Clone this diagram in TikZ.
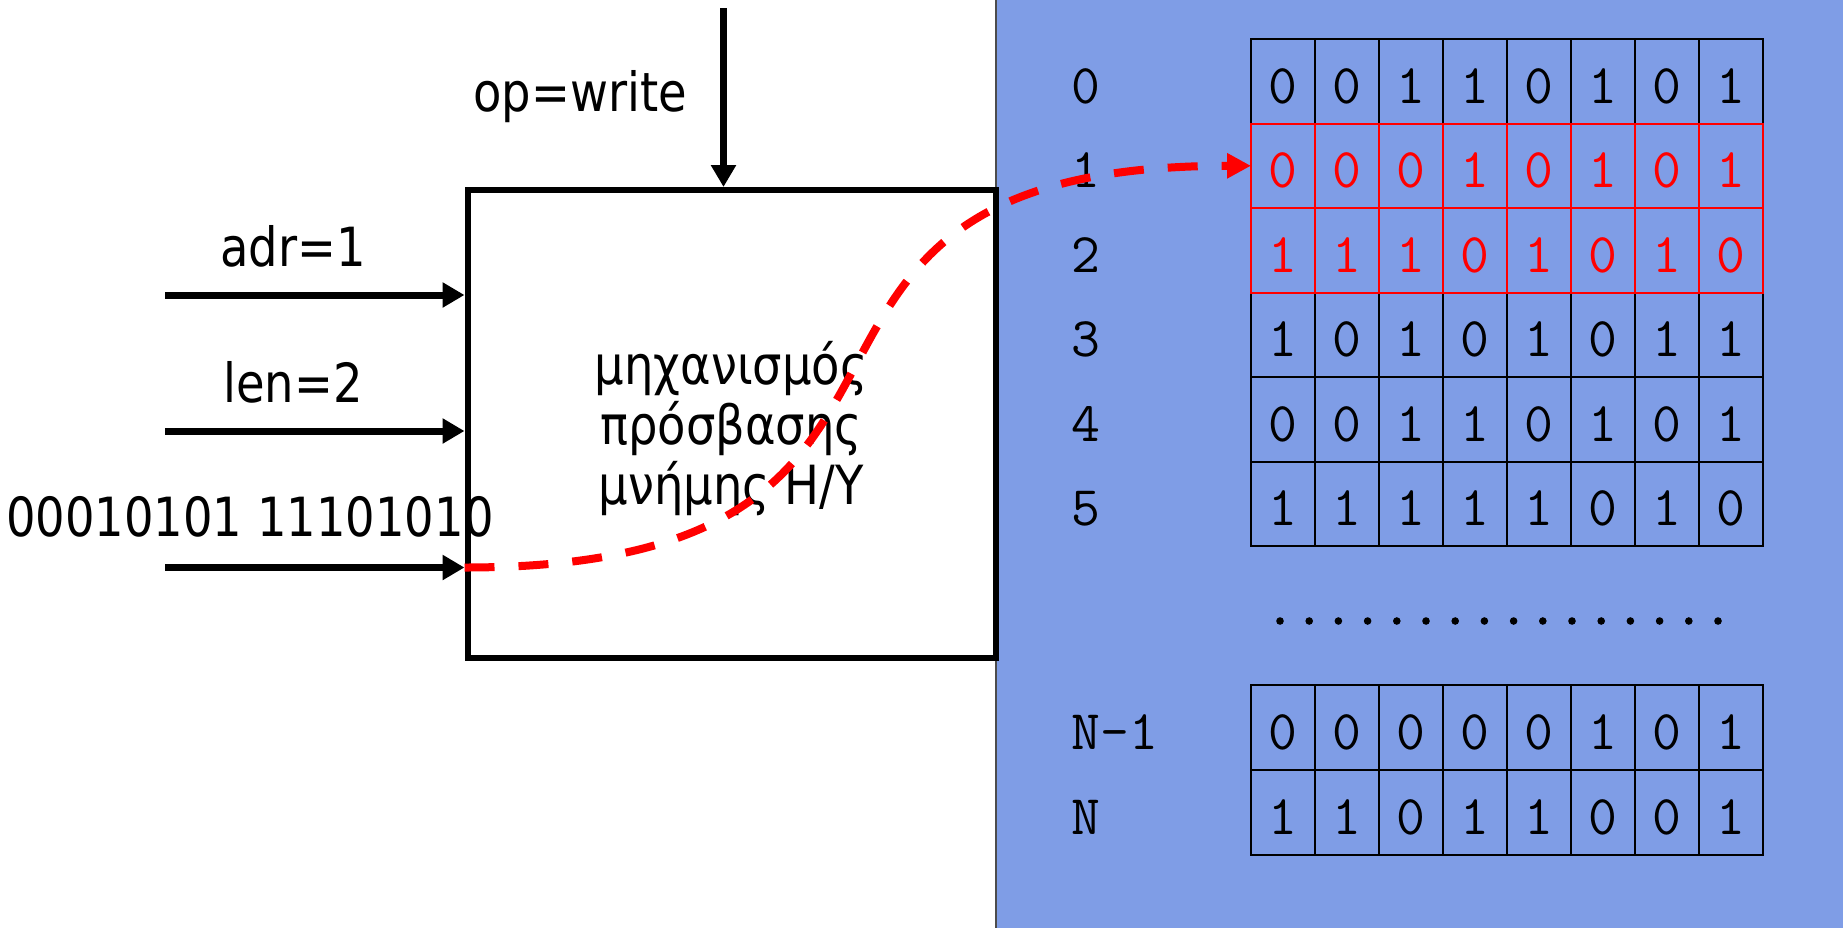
\documentclass[tikz,border=0pt]{standalone}
\usepackage{fontspec}
\setmainfont{DejaVu Sans}[FakeStretch=0.86]
\setmonofont{Latin Modern Mono}
\usetikzlibrary{arrows.meta}
\definecolor{panelblue}{RGB}{127,157,230}
\tikzset{
  lbl/.style={font=\fontsize{27}{32}\selectfont, inner sep=0pt},
  inarrow/.style={line width=3.5pt, -{Triangle[length=11pt,width=12pt]}},
  cellb/.style={draw=black, line width=1pt, outer sep=0pt, minimum width=32pt, minimum height=42.3pt,
    inner sep=0pt, anchor=north west, font=\ttfamily\fontsize{28}{32}\selectfont, text height=22pt, text depth=0pt},
  cellr/.style={cellb, draw=red, text=red},
  rowlbl/.style={anchor=base west, inner sep=0pt, font=\ttfamily\fontsize{28}{32}\selectfont},
  dotmark/.style={fill=black, draw=none},
}
\begin{document}
\begin{tikzpicture}[x=0.5pt,y=-0.5pt]
\useasboundingbox (0,0) rectangle (1843,928);
% blue panel
\fill[panelblue] (996,0) rectangle (1843,928);
\draw[black!70, line width=0.6pt] (996,0) -- (996,928);
% main box
\node[draw, line width=3pt, minimum width=264.25pt, minimum height=234pt, inner sep=0pt] (box) at (731.75,424) {};
\node[lbl, align=center, font=\fontsize{27}{30}\selectfont] (boxtxt) at (731,429) {μηχανισμός\\πρόσβασης\\μνήμης Η/Υ};
% op arrow
\coordinate (opstart) at (723.5,8);
\draw[inarrow] (opstart) -- (opstart |- box.north);
\node[lbl] (optxt) at (580,97) {op=write};
% input arrows
\coordinate (in1) at (165,295);
\coordinate (in2) at (165,431);
\coordinate (in3) at (165,567.5);
\draw[inarrow] (in1) -- (in1 -| box.west);
\draw[inarrow] (in2) -- (in2 -| box.west);
\draw[inarrow] (in3) -- (in3 -| box.west);
\node[lbl] (adrtxt) at (293,246) {adr=1};
\node[lbl] (lentxt) at (293,382) {len=2};
\node[lbl] (datatxt) at (250,517) {00010101 11101010};
% memory table (black rows)
\foreach \r/\lab/\top/\bits in {0/0/39/{0,0,1,1,0,1,0,1}, 3/3/292.5/{1,0,1,0,1,0,1,1},
    4/4/377/{0,0,1,1,0,1,0,1}, 5/5/461.5/{1,1,1,1,1,0,1,0},
    6/N-1/685/{0,0,0,0,0,1,0,1}, 7/N/770/{1,1,0,1,1,0,0,1}}{
  \foreach \bit [count=\c from 0] in \bits{
    \node[cellb] (c\r-\c) at (1251+64*\c,\top) {\bit};
  }
  \node[rowlbl] (rl\r) at (1071,\top+64) {\lab};
}
% red rows
\foreach \r/\top/\bits in {1/123.5/{0,0,0,1,0,1,0,1}, 2/208/{1,1,1,0,1,0,1,0}}{
  \foreach \bit [count=\c from 0] in \bits{
    \node[cellr] (c\r-\c) at (1251+64*\c,\top) {\bit};
  }
  \node[rowlbl] (rl\r) at (1071,\top+64) {\r};
}
% dots
\foreach \i in {0,...,15}{
  \fill[dotmark] (1280+29.2*\i,621) circle[radius=1.9pt];
}
% red dashed connector
\coordinate (dstart) at (in3 -| box.west);
\draw[red, line width=4pt, dash pattern=on 15pt off 12pt, -{Triangle[length=12pt,width=12pt]}]
  (dstart) .. controls +(560,0) and +(-560,0) .. (c1-0.west);
\end{tikzpicture}
\end{document}
